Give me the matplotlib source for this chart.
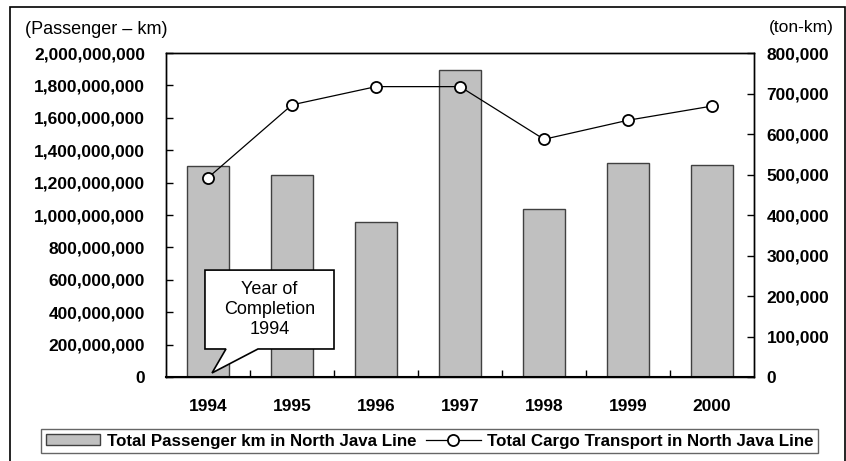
import matplotlib.pyplot as plt
from matplotlib.patches import Polygon, Rectangle
from matplotlib.ticker import FuncFormatter

plt.rcParams['font.family'] = ['Liberation Sans', 'DejaVu Sans']

years = ['1994', '1995', '1996', '1997', '1998', '1999', '2000']
passenger_km = [1.30e9, 1.245e9, 0.957e9, 1.893e9, 1.037e9, 1.32e9, 1.31e9]
cargo_ton_km = [492000, 672000, 717000, 717000, 587000, 634000, 669000]

fig = plt.figure(figsize=(8.46, 4.61), dpi=100)
ax = fig.add_axes([0.1962, 0.1822, 0.6951, 0.7028])
ax2 = ax.twinx()

x = list(range(len(years)))
bars = ax.bar(x, passenger_km, width=0.5, color='#c0c0c0', edgecolor='#404040',
              linewidth=1, label='Total Passenger km in North Java Line', zorder=2)
line, = ax2.plot(x, cargo_ton_km, color='black', linewidth=0.9, marker='o',
                 markersize=8, markerfacecolor='white', markeredgecolor='black',
                 markeredgewidth=1.3, label='Total Cargo Transport in North Java Line')

ax.set_xlim(-0.5, len(years) - 0.5)
ax.set_ylim(0, 2.0e9)
ax.set_yticks([i * 2e8 for i in range(11)])
ax2.set_ylim(0, 800000)
ax2.set_yticks([i * 100000 for i in range(9)])

comma = FuncFormatter(lambda v, p: f'{int(v):,}')
ax.yaxis.set_major_formatter(comma)
ax2.yaxis.set_major_formatter(comma)

# categories labelled at centres, tick marks at the boundaries
ax.set_xticks(x)
ax.set_xticklabels(years)
ax.set_xticks([i + 0.5 for i in x[:-1]], minor=True)
ax.tick_params(axis='x', which='major', length=0, pad=16, labelsize=12.5)
ax.tick_params(axis='x', which='minor', direction='in', length=5, width=1)
ax.tick_params(axis='y', direction='in', length=5, width=1, pad=15, labelsize=12.5)
ax2.tick_params(axis='y', direction='in', length=5, width=1, pad=9, labelsize=12.5)
for lab in ax.get_xticklabels() + ax.get_yticklabels() + ax2.get_yticklabels():
    lab.set_fontweight('bold')

for a in (ax, ax2):
    for s in a.spines.values():
        s.set_linewidth(1)
ax.spines['bottom'].set_linewidth(1.5)

fig.text(0.03, 0.935, '(Passenger – km)', fontsize=13, ha='left', va='center')
fig.text(0.985, 0.94, '(ton-km)', fontsize=12.5, ha='right', va='center')

# callout box pointing at the first bar
callout = Polygon([(-0.036, 0.173e9), (-0.036, 0.66e9), (1.5, 0.66e9), (1.5, 0.173e9),
                   (0.595, 0.173e9), (0.048, 0.025e9), (0.214, 0.173e9)],
                  closed=True, facecolor='white', edgecolor='black', linewidth=1.2, zorder=5)
ax.add_patch(callout)
ax.text(0.732, 0.417e9, 'Year of\nCompletion\n1994', ha='center', va='center',
        fontsize=13, linespacing=1.2, zorder=6)

leg = fig.legend([bars, line], [bars.get_label(), line.get_label()], loc='center',
                 bbox_to_anchor=(0.508, 0.043), ncol=2, frameon=True, fancybox=False,
                 handlelength=3.2, handleheight=0.6, handletextpad=0.4,
                 columnspacing=0.6, borderpad=0.25, prop={'weight': 'bold', 'size': 12.2})
leg.get_frame().set_edgecolor('#404040')
leg.get_frame().set_linewidth(1)

# outer frame
fig.patches.append(Rectangle((10 / 846, -0.05), 835 / 846, 1.05 - 7 / 461,
                             transform=fig.transFigure, fill=False,
                             edgecolor='black', linewidth=1.2))

fig.savefig('out.png', dpi=100)
